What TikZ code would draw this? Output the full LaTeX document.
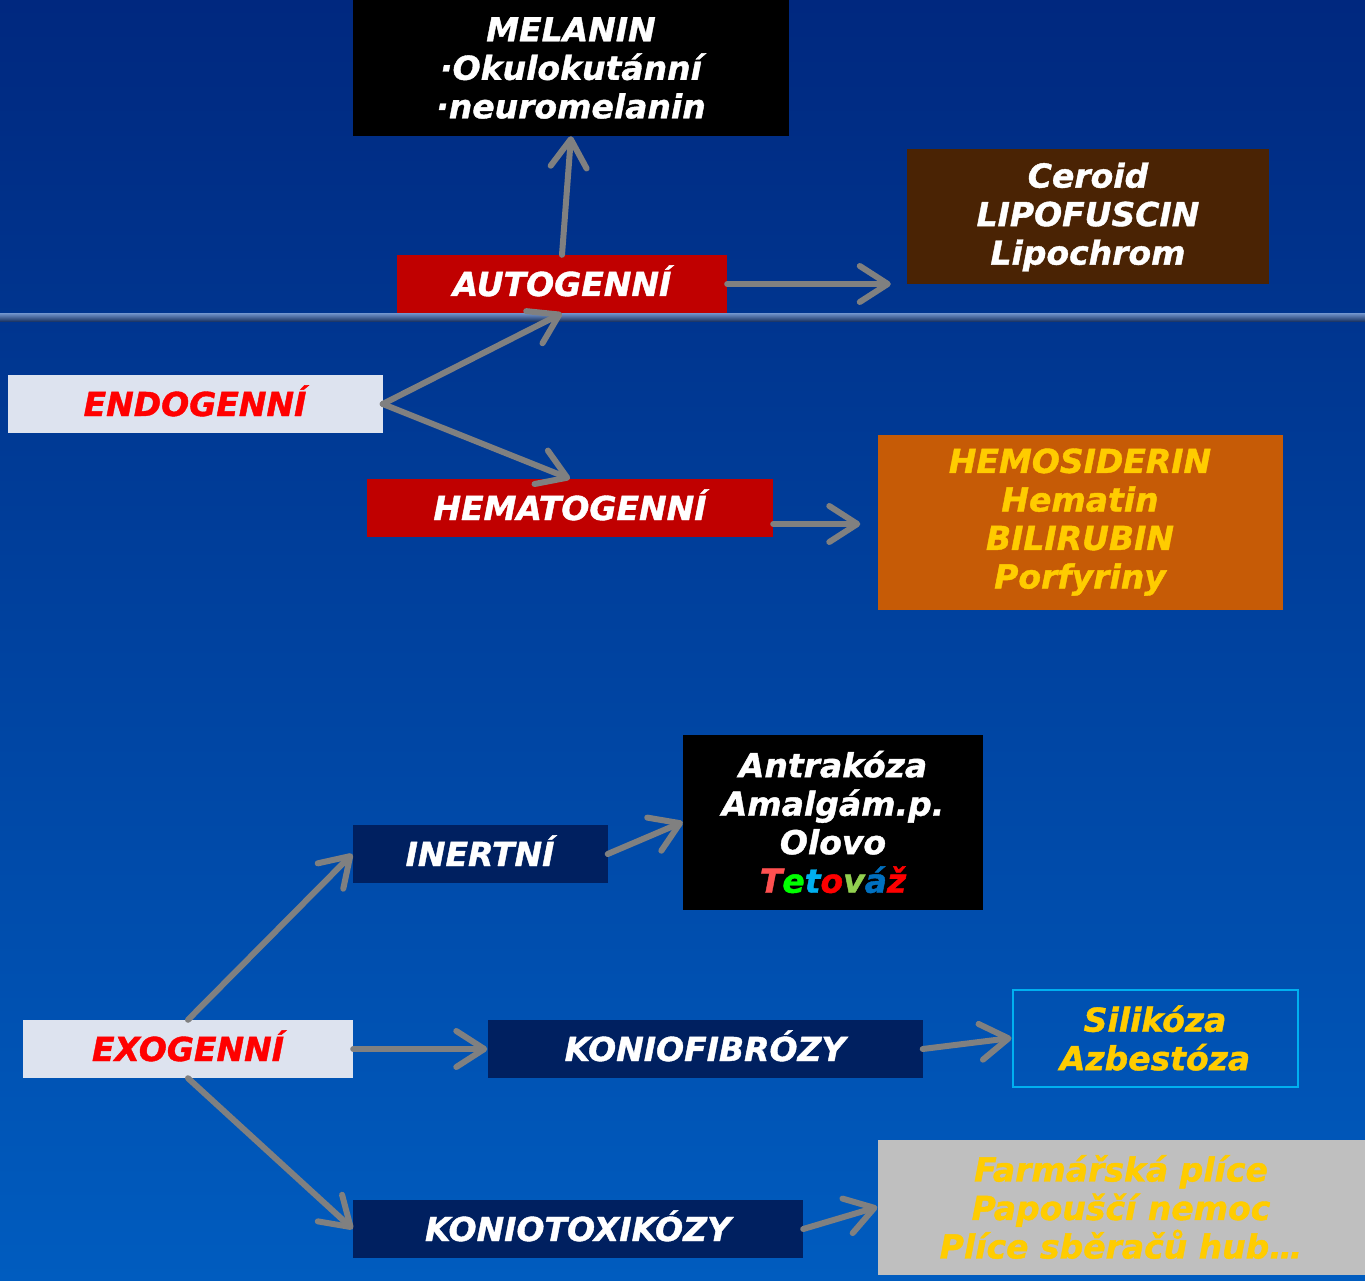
\documentclass[tikz,border=0pt]{standalone}
\usepackage{fontspec}
\setmainfont{DejaVu Sans}[BoldItalicFeatures={FakeBold=1.2}]
\usetikzlibrary{calc, positioning, arrows.meta}

\definecolor{bgtop}{HTML}{00287F}
\definecolor{bgbot}{HTML}{005CBF}
\definecolor{redbox}{HTML}{C00000}
\definecolor{navybox}{HTML}{002060}
\definecolor{lightbox}{HTML}{DDE3EF}
\definecolor{brownbox}{HTML}{4A2304}
\definecolor{orangebox}{HTML}{C65B06}
\definecolor{graybox}{HTML}{BFBFBF}
\definecolor{gold}{HTML}{FFCC00}
\definecolor{cyanline}{HTML}{00B0F0}
\definecolor{arrgray}{HTML}{808080}
\definecolor{linetop}{HTML}{7396CE}
\definecolor{linebot}{HTML}{1E3868}

\begin{document}
\begin{tikzpicture}[
    x=1pt, y=-1pt,
    box/.style={
        rectangle,
        inner sep=0pt,
        align=center,
        text=white,
        font=\fontsize{33}{38.5}\selectfont\bfseries\itshape
    },
    label/.style={
        box,
        minimum height=58,
        text height=24,
        text depth=0
    },
    arrow/.style={
        draw=arrgray,
        line width=6,
        line cap=round,
        -{Straight Barb[length=28, width=36, round]}
    }
]

% background and divider
\shade[top color=bgtop, bottom color=bgbot] (0,0) rectangle (1365,1281);
\useasboundingbox (0,0) rectangle (1365,1281);
\shade[top color=linetop, bottom color=linebot] (0,313) rectangle (1365,321);

% endogenni part
\node[box, fill=black, minimum width=436, minimum height=136] (melanin) at (571,68) {
    MELANIN\\
    ·Okulokutánní\\
    ·neuromelanin
};
\node[box, fill=brownbox, minimum width=362, minimum height=135] (ceroid) at (1088,217) {
    Ceroid\\
    LIPOFUSCIN\\
    Lipochrom
};
\node[label, fill=redbox, minimum width=330] (auto) at (562,284) {AUTOGENNÍ};
\node[label, fill=lightbox, text=red, minimum width=375] (endo) at (195,404) {ENDOGENNÍ};
\node[label, fill=redbox, minimum width=406] (hemato) at (570,508) {HEMATOGENNÍ};
\node[box, fill=orangebox, text=gold, minimum width=405, minimum height=175] (hemosid) at (1080,522) {
    HEMOSIDERIN\\
    Hematin\\
    BILIRUBIN\\
    Porfyriny
};

\draw[arrow] (auto.north) -- (melanin.south);
\draw[arrow, shorten >=16] (auto.east) -- (auto.east -| ceroid.west);
\draw[arrow] (endo.east) -- (auto.south);
\draw[arrow] (endo.east) -- (hemato.north);
\draw[arrow, shorten >=17] ([yshift=-16]hemato.east) -- ([yshift=-16]hemato.east -| hemosid.west);

% exogenni part
\node[box, fill=black, minimum width=300, minimum height=175] (antra) at (833,822) {
    Antrakóza\\
    Amalgám.p.\\
    Olovo\\
    \textcolor[HTML]{FF5050}{T}\textcolor[HTML]{00FF00}{e}\textcolor[HTML]{00B0F0}{t}\textcolor[HTML]{FF0000}{o}\textcolor[HTML]{92D050}{v}\textcolor[HTML]{0070C0}{á}\textcolor[HTML]{FF0000}{ž}
};
\node[label, fill=navybox, minimum width=255] (inert) at (480,854) {INERTNÍ};
\node[label, fill=lightbox, text=red, minimum width=330] (exo) at (188,1049) {EXOGENNÍ};
\node[label, fill=navybox, minimum width=435] (koniofib) at (705,1049) {KONIOFIBRÓZY};
\node[box, draw=cyanline, line width=2, text=gold, minimum width=285, minimum height=97] (silik) at (1155,1038) {
    Silikóza\\
    Azbestóza
};
\node[label, fill=navybox, minimum width=450] (koniotox) at (578,1229) {KONIOTOXIKÓZY};
\node[box, fill=graybox, text=gold, minimum width=487, minimum height=135] (farm) at (1121,1207) {
    Farmářská plíce\\
    Papouščí nemoc\\
    Plíce sběračů hub…
};

\draw[arrow] (exo.north) -- (inert.west);
\draw[arrow] (inert.east) -- (antra.west);
\draw[arrow] (exo.east) -- (koniofib.west);
\draw[arrow] (koniofib.east) -- (silik.west);
\draw[arrow] (exo.south) -- (koniotox.west);
\draw[arrow] (koniotox.east) -- (farm.west);

\end{tikzpicture}
\end{document}
